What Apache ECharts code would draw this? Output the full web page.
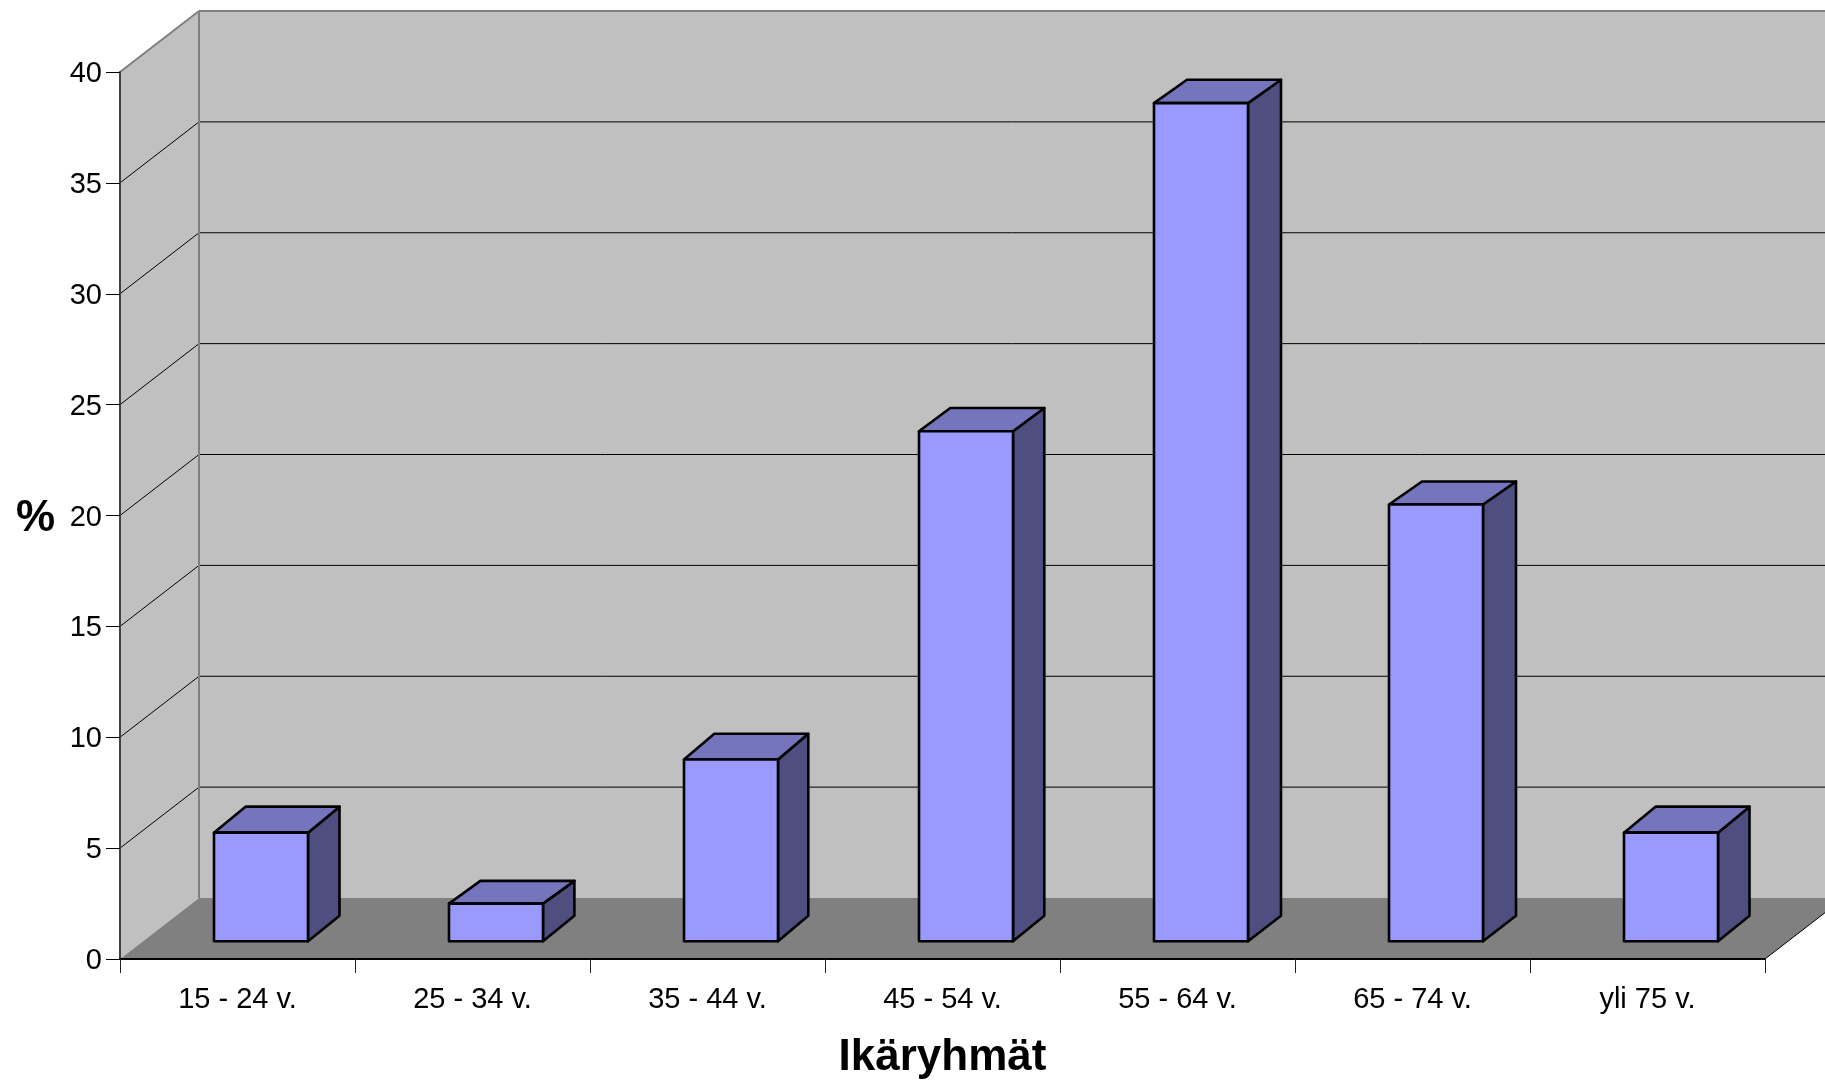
<!DOCTYPE html>
<html>
<head>
<meta charset="utf-8">
<title>Ikäryhmät</title>
<style>
  html, body { margin: 0; padding: 0; background: #fff; }
  #chart { width: 1825px; height: 1080px; }
</style>
<script src="https://cdn.jsdelivr.net/npm/echarts@6/dist/echarts.min.js"></script>
</head>
<body>
<div id="chart"></div>
<script>
// Age groups and their share in percent
const categories = ['15 - 24 v.', '25 - 34 v.', '35 - 44 v.', '45 - 54 v.', '55 - 64 v.', '65 - 74 v.', 'yli 75 v.'];
const shares = [4.9, 1.7, 8.2, 23.0, 37.8, 19.7, 4.9];
const yTicks = [0, 5, 10, 15, 20, 25, 30, 35, 40];

// Pseudo-3D projection: how far the walls and the boxes recede
const WALL_DX = 79, WALL_DY = 61;
const BOX_SHIFT_DX = 23.5, BOX_SHIFT_DY = 17.7;
const BOX_BASE_DY = 25.6;
const BOX_DX = [31.5, 31.4, 30.3, 31.3, 33, 33, 31.5];
const BOX_TOP_DY = [26, 22.7, 25.7, 23.3, 23.3, 23, 26];
const BOX_WIDTH_RATIO = 0.4;

const WALL = '#c0c0c0', FLOOR = '#808080', EDGE = '#808080';
const FRONT = '#9999ff', TOP = '#7575bd', SIDE = '#4e4e80';

const poly = (points, fill, stroke, lineWidth) => ({
  type: 'polygon',
  shape: { points },
  style: { fill, stroke: stroke || 'none', lineWidth: lineWidth || 0, lineJoin: 'round' },
  silent: true
});
const line = (x1, y1, x2, y2, stroke, lineWidth) => ({
  type: 'line',
  shape: { x1, y1, x2, y2 },
  style: { stroke, lineWidth },
  silent: true
});

// Side wall, back wall, floor and the gridlines running across them
function renderRoom(params, api) {
  const cs = params.coordSys;
  const xL = cs.x, xR = cs.x + cs.width + WALL_DX + 20;
  const xFR = cs.x + cs.width;
  const y0 = api.coord([0, 0])[1];
  const yMax = api.coord([0, yTicks[yTicks.length - 1]])[1];
  const xB = xL + WALL_DX;
  const children = [
    poly([[xB, yMax - WALL_DY], [xR, yMax - WALL_DY], [xR, y0 - WALL_DY], [xB, y0 - WALL_DY]], WALL),
    poly([[xL, y0], [xL, yMax], [xB, yMax - WALL_DY], [xB, y0 - WALL_DY]], WALL),
    poly([[xL, y0], [xFR, y0], [xFR + WALL_DX, y0 - WALL_DY], [xB, y0 - WALL_DY]], FLOOR)
  ];
  yTicks.forEach(t => {
    if (t === 0 || t === yTicks[yTicks.length - 1]) return;
    const y = api.coord([0, t])[1];
    children.push(line(xL, y, xB, y - WALL_DY, '#000', 1));
    children.push(line(xB, y - WALL_DY, xR, y - WALL_DY, '#000', 1));
  });
  children.push(line(xB, yMax - WALL_DY, xR, yMax - WALL_DY, EDGE, 2));
  children.push(line(xL, yMax, xB, yMax - WALL_DY, EDGE, 2));
  children.push(line(xB, yMax - WALL_DY, xB, y0 - WALL_DY, EDGE, 2));
  children.push(line(xFR, y0, xFR + WALL_DX, y0 - WALL_DY, '#000', 1));
  return { type: 'group', children };
}

// One box per age group, built from its value on the axis scale
function renderBox(params, api) {
  const i = api.value(0);
  const v = api.value(1);
  const center = api.coord([i, 0])[0] + BOX_SHIFT_DX;
  const base = api.coord([i, 0])[1] - BOX_SHIFT_DY;
  const top = api.coord([i, v])[1] - BOX_SHIFT_DY;
  const w = api.size([1, 0])[0] * BOX_WIDTH_RATIO;
  const l = center - w / 2, r = center + w / 2;
  const dx = BOX_DX[i], dyTop = BOX_TOP_DY[i];
  return {
    type: 'group',
    children: [
      poly([[r, top], [r + dx, top - dyTop], [r + dx, base - BOX_BASE_DY], [r, base]], SIDE, '#000', 2.6),
      poly([[l, top], [l + dx, top - dyTop], [r + dx, top - dyTop], [r, top]], TOP, '#000', 2.6),
      poly([[l, top], [r, top], [r, base], [l, base]], FRONT, '#000', 2.6)
    ]
  };
}

const FONT = '"Liberation Sans", Arial, sans-serif';
const chart = echarts.init(document.getElementById('chart'), null, { renderer: 'canvas' });
chart.setOption({
  animation: false,
  backgroundColor: '#ffffff',
  grid: { left: 120, right: 60, top: 72, bottom: 121, outerBoundsMode: 'none' },
  xAxis: {
    type: 'category',
    data: categories,
    z: 5,
    name: 'Ikäryhmät',
    nameLocation: 'middle',
    nameGap: 77,
    nameMoveOverlap: false,
    nameTextStyle: { fontFamily: FONT, fontSize: 44, fontWeight: 'bold', color: '#000' },
    axisLine: { show: true, lineStyle: { color: '#000', width: 2 } },
    axisTick: { show: true, length: 14, lineStyle: { color: '#222', width: 1 } },
    axisLabel: { fontFamily: FONT, fontSize: 29, color: '#000', margin: 26, interval: 0 },
    splitLine: { show: false }
  },
  yAxis: {
    type: 'value',
    min: 0,
    max: 40,
    interval: 5,
    z: 5,
    name: '%',
    nameLocation: 'middle',
    nameRotate: 0,
    nameGap: 65,
    nameMoveOverlap: false,
    nameTextStyle: { fontFamily: FONT, fontSize: 44, fontWeight: 'bold', color: '#000', verticalAlign: 'top', lineHeight: 7 },
    axisLine: { show: true, lineStyle: { color: '#404040', width: 2 } },
    axisTick: { show: true, length: 14, lineStyle: { color: '#000', width: 1 } },
    axisLabel: { fontFamily: FONT, fontSize: 29, color: '#000', margin: 18, verticalAlign: 'top', lineHeight: 4 },
    splitLine: { show: false }
  },
  series: [
    {
      type: 'custom',
      name: 'room',
      z: 1,
      renderItem: renderRoom,
      data: [[0, 0]],
      encode: { x: 0, y: 1 },
      silent: true
    },
    {
      type: 'custom',
      name: '%',
      z: 6,
      renderItem: renderBox,
      data: shares.map((v, i) => [i, v]),
      encode: { x: 0, y: 1 }
    }
  ]
});
</script>
</body>
</html>
